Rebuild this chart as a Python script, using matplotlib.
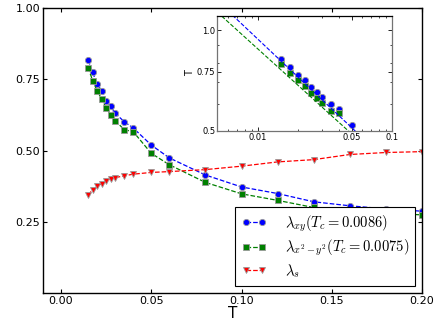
import numpy as np
import matplotlib
matplotlib.use("Agg")
import matplotlib.pyplot as plt
from matplotlib.ticker import FixedLocator, NullFormatter, FixedFormatter

plt.rcParams['mathtext.fontset'] = 'cm'

T = [0.015, 0.0175, 0.02, 0.0225, 0.025, 0.0275, 0.03, 0.035, 0.04, 0.05,
     0.06, 0.08, 0.10, 0.12, 0.14, 0.16, 0.18, 0.20]
lam_xy = [0.817, 0.774, 0.733, 0.710, 0.675, 0.655, 0.631, 0.601, 0.579, 0.519,
          0.474, 0.414, 0.372, 0.349, 0.320, 0.306, 0.295, 0.287]
lam_x2y2 = [0.791, 0.745, 0.709, 0.681, 0.649, 0.626, 0.605, 0.573, 0.566, 0.490,
            0.450, 0.388, 0.348, 0.325, 0.300, 0.288, 0.281, 0.274]
lam_s = [0.344, 0.362, 0.374, 0.384, 0.392, 0.399, 0.405, 0.411, 0.417, 0.423,
         0.426, 0.433, 0.445, 0.460, 0.468, 0.486, 0.493, 0.496]

# power-law fits  lambda = a * T^(-b) shown in the inset
fit_xy = (0.1634, 0.380)
fit_x2y2 = (0.1637, 0.365)

labels = [r'$\lambda_{xy}(T_c=0.0086)$', r'$\lambda_{x^2-y^2}(T_c=0.0075)$', r'$\lambda_s$']

fig = plt.figure(figsize=(4.36, 3.27), dpi=100)
ax = fig.add_axes([0.0986, 0.104, 0.8694, 0.8715])

mk = dict(markersize=4.5, markeredgecolor='0.6', markeredgewidth=0.6, lw=0.9)
ax.plot(T, lam_xy, 'o--', color='b', label=labels[0], **mk)
ax.plot(T, lam_x2y2, 's--', color='g', label=labels[1], **mk)
ax.plot(T, lam_s, 'v--', color='r', label=labels[2], **mk)

ax.set_xlim(-0.01, 0.2)
ax.set_ylim(0, 1)
ax.set_xticks([0.0, 0.05, 0.10, 0.15, 0.20])
ax.set_yticks([0.25, 0.5, 0.75, 1.0])
ax.set_xticklabels(['0.00', '0.05', '0.10', '0.15', '0.20'])
ax.set_yticklabels(['0.25', '0.50', '0.75', '1.00'])
ax.tick_params(direction='in', top=True, right=True, length=3, width=0.8,
               labelsize=8, pad=2)
ax.set_xlabel('T', fontsize=11, labelpad=0)
for s in ax.spines.values():
    s.set_linewidth(1.0)

leg = ax.legend(loc='lower right', fontsize=10.5, numpoints=2, fancybox=False,
                edgecolor='k', framealpha=1, borderaxespad=0.45,
                handlelength=1.7, handletextpad=1.25, labelspacing=0.28,
                borderpad=0.45)
leg.get_frame().set_linewidth(0.8)

# inset
ins = fig.add_axes([0.4984, 0.6003, 0.4014, 0.3497])
mk_pts = {k: v for k, v in mk.items() if k != 'lw'}
ins.plot(T[:10], lam_xy[:10], 'o', color='b', **mk_pts)
ins.plot(T[:10], lam_x2y2[:10], 's', color='g', **mk_pts)
Tf = np.logspace(np.log10(0.004), np.log10(0.1), 200)
ins.plot(Tf, fit_xy[0] * Tf ** (-fit_xy[1]), '--', color='b', lw=0.8)
ins.plot(Tf, fit_x2y2[0] * Tf ** (-fit_x2y2[1]), '--', color='g', lw=0.8)
ins.set_xscale('log')
ins.set_yscale('log')
ins.set_xlim(0.005, 0.1)
ins.set_ylim(0.5, 1.1)
ins.xaxis.set_major_locator(FixedLocator([0.01, 0.05, 0.1]))
ins.xaxis.set_major_formatter(FixedFormatter(['0.01', '0.05', '0.1']))
ins.xaxis.set_minor_locator(FixedLocator([0.006, 0.007, 0.008, 0.009, 0.02, 0.03, 0.04,
                                          0.06, 0.07, 0.08, 0.09]))
ins.xaxis.set_minor_formatter(NullFormatter())
ins.yaxis.set_major_locator(FixedLocator([0.5, 0.75, 1.0]))
ins.yaxis.set_major_formatter(FixedFormatter(['0.5', '0.75', '1.0']))
ins.yaxis.set_minor_locator(FixedLocator([0.6, 0.7, 0.8, 0.9]))
ins.yaxis.set_minor_formatter(NullFormatter())
ins.tick_params(which='both', direction='in', top=True, right=True, labelsize=6, pad=1.5)
ins.tick_params(which='major', length=3, width=0.6)
ins.tick_params(which='minor', length=1.5, width=0.5)
ins.set_ylabel('T', fontsize=7, labelpad=1)
for name, s in ins.spines.items():
    s.set_linewidth(0.9)
    s.set_color('0.45' if name != 'top' else 'k')

fig.savefig('out.png', dpi=100)
